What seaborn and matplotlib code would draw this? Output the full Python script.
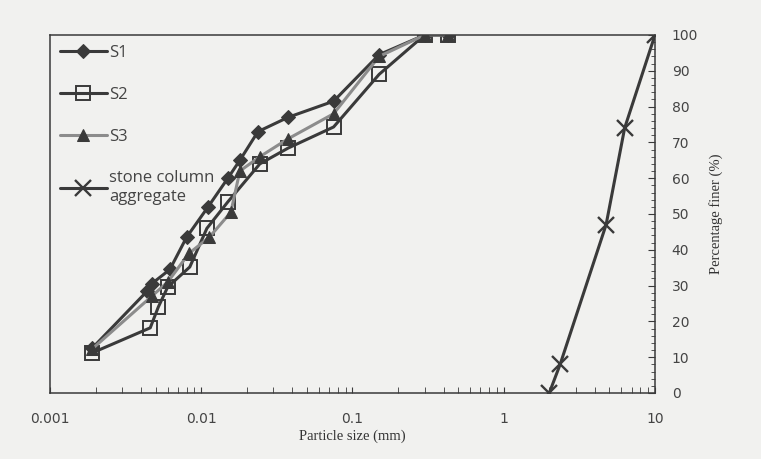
"""Particle size distribution of soils S1-S3 and stone column aggregate."""

import matplotlib
matplotlib.use("Agg")
import matplotlib.pyplot as plt
import numpy as np
import pandas as pd
import seaborn as sns
from matplotlib.ticker import FixedLocator, LogLocator, MultipleLocator, NullFormatter

# Data (particle size in mm, percentage finer in %)
s1_size = [0.0019, 0.0044, 0.0047, 0.0062, 0.0080, 0.0111, 0.0150, 0.0180, 0.0237,
           0.0375, 0.075, 0.15, 0.3, 0.425]
s1_finer = [12.5, 28.5, 30.5, 34.5, 43.5, 52.0, 60.0, 65.0, 73.0, 77.0, 81.5, 94.5, 100, 100]

s2_size = [0.0019, 0.0046, 0.0052, 0.0060, 0.0084, 0.0109, 0.0150, 0.0244, 0.0375,
           0.075, 0.15, 0.3, 0.425]
s2_finer = [11.2, 18.2, 24.0, 29.6, 35.2, 46.0, 53.4, 64.0, 68.4, 74.3, 89.0, 100, 100]

s3_size = [0.0019, 0.0047, 0.0060, 0.0083, 0.0113, 0.0157, 0.0180, 0.0244, 0.0375,
           0.075, 0.15, 0.3, 0.425]
s3_finer = [12.3, 27.0, 31.0, 39.0, 43.5, 50.5, 62.0, 66.0, 71.0, 78.0, 94.0, 100, 100]

agg_size = [2.0, 2.36, 4.75, 6.3, 10.0]
agg_finer = [0.0, 8.0, 47.0, 74.0, 100.0]

x_ticks = [0.001, 0.01, 0.1, 1, 10]
x_tick_labels = ["0.001", "0.01", "0.1", "1", "10"]

paper = "#f1f1ef"
ink = "#3a3a3a"

sns.set_style("ticks")
plt.rcParams["font.family"] = ["DejaVu Sans"]

fig = plt.figure(figsize=(7.61, 4.59), dpi=100, facecolor=paper)
ax = fig.add_axes([0.0657, 0.1438, 0.795, 0.78], facecolor=paper)

series = [
    ("S1", s1_size, s1_finer, dict(color=ink, marker="D", markersize=7.5,
                                   markerfacecolor=ink, markeredgecolor=ink)),
    ("S2", s2_size, s2_finer, dict(color=ink, marker="s", markersize=10,
                                   markerfacecolor="none", markeredgecolor=ink,
                                   markeredgewidth=1.4)),
    ("S3", s3_size, s3_finer, dict(color="#8c8c8c", marker="^", markersize=9,
                                   markerfacecolor=ink, markeredgecolor=ink)),
    ("stone column\naggregate", agg_size, agg_finer,
     dict(color=ink, marker="x", markersize=11, markeredgewidth=1.7,
          markeredgecolor=ink)),
]

for label, size, finer, style in series:
    df = pd.DataFrame({"size": size, "finer": finer})
    sns.lineplot(data=df, x="size", y="finer", ax=ax, sort=False, estimator=None,
                 linewidth=2.2, label=label, **style)

ax.set_xscale("log")
ax.set_xlim(0.001, 10)
ax.set_ylim(0, 100)

ax.xaxis.set_major_locator(FixedLocator(x_ticks))
ax.set_xticklabels(x_tick_labels)
ax.xaxis.set_minor_locator(LogLocator(base=10, subs=np.arange(2, 10)))
ax.xaxis.set_minor_formatter(NullFormatter())

ax.yaxis.tick_right()
ax.yaxis.set_label_position("right")
ax.yaxis.set_major_locator(MultipleLocator(10))
ax.yaxis.set_minor_locator(MultipleLocator(2))

ax.tick_params(axis="both", which="both", direction="in", colors=ink,
               labelcolor="#444444", labelsize=10)
ax.tick_params(axis="x", which="major", length=4, pad=14)
ax.tick_params(axis="x", which="minor", length=4)
ax.tick_params(axis="y", which="major", length=5, pad=12)
ax.tick_params(axis="y", which="minor", length=3)

for spine in ax.spines.values():
    spine.set_visible(True)
    spine.set_color(ink)
    spine.set_linewidth(1.1)

ax.set_xlabel("Particle size (mm)", family="Liberation Serif", fontsize=10.5,
              color="#333333", labelpad=2)
ax.set_ylabel("Percentage finer (%)", family="Liberation Serif", fontsize=10.5,
              color="#333333", labelpad=8)

leg = ax.legend(loc="upper left", frameon=False, fontsize=12, handlelength=2.8,
                handletextpad=0.15, labelspacing=1.55, borderaxespad=0.2)
for text in leg.get_texts():
    text.set_color("#444444")
    text.set_family("Open Sans")

fig.savefig("out.png", dpi=100, facecolor=paper)
